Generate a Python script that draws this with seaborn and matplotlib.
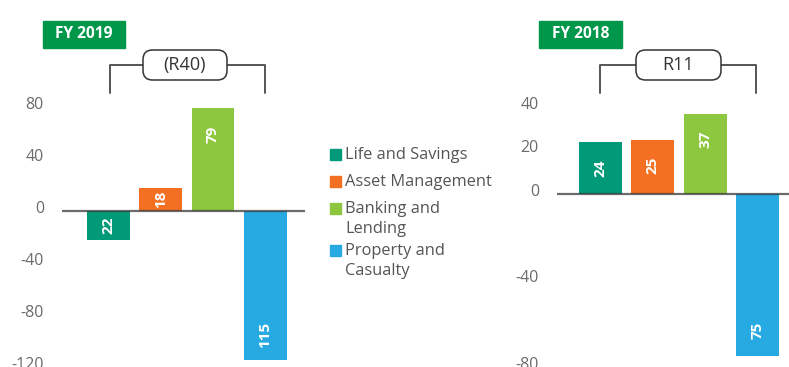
import matplotlib
matplotlib.use("Agg")
import matplotlib.pyplot as plt
import matplotlib.transforms as mtransforms
from matplotlib.patches import Rectangle, FancyBboxPatch
from matplotlib.lines import Line2D
import seaborn as sns
import pandas as pd

# Segment results (Rm); sign shows profit or loss
segments = ["Life and Savings", "Asset Management", "Banking and Lending", "Property and Casualty"]
legend_labels = ["Life and Savings", "Asset Management", "Banking and\nLending", "Property and\nCasualty"]
values_2019 = [-22, 18, 79, -115]
values_2018 = [24, 25, 37, -75]
total_2019 = "(R40)"
total_2018 = "R11"
ticks_2019 = [80, 40, 0, -40, -80, -120]
ticks_2018 = [40, 20, 0, -40, -80]
colors = ["#009a78", "#f37022", "#8dc63f", "#27a9e1"]
badge_green = "#00974a"

W, H = 789, 367
sns.set_theme(style="white")
plt.rcParams["font.family"] = ["Open Sans", "DejaVu Sans"]
fig = plt.figure(figsize=(W / 100, H / 100), dpi=100)


def fx(px):
    return px / W


def fy(py):
    return 1 - py / H


def add_axes(left, right, top, bottom):
    return fig.add_axes([fx(left), fy(bottom), fx(right) - fx(left), fy(top) - fy(bottom)])


def draw_panel(ax, values, ticks, ylim, xlim):
    df = pd.DataFrame({"segment": segments, "value": values})
    sns.barplot(data=df, x="segment", y="value", hue="segment", palette=colors,
                order=segments, hue_order=segments, width=0.82, legend=False,
                ax=ax, saturation=1, linewidth=0)
    ax.set_xlim(*xlim)
    ax.set_ylim(*ylim)
    ax.axhline(0, color="#3a3a3a", lw=1.6, alpha=0.75, zorder=5)
    for s in ax.spines.values():
        s.set_visible(False)
    ax.set_xticks([])
    ax.set_xlabel("")
    ax.set_ylabel("")
    ax.set_yticks(ticks)
    ax.set_yticklabels([str(t) for t in ticks])
    ax.tick_params(axis="y", length=0, pad=13, labelsize=11.5, labelcolor="#6b6b6b")
    shift = mtransforms.ScaledTranslation(0, 4 / 100, fig.dpi_scale_trans)
    for lab in ax.get_yticklabels():
        lab.set_transform(lab.get_transform() + shift)
    ax.patch.set_alpha(0)
    # value labels inside the bars
    y0, y1 = ax.transData.transform([(0, 0), (0, 1)])[:, 1]
    ppu = (y1 - y0)  # pixels per unit
    for i, v in enumerate(values):
        length = abs(v) * ppu
        inset = min(length / 2, 26)
        sign = 1 if v > 0 else -1
        ax.annotate(str(abs(v)), xy=(i, v), xytext=(0, -sign * inset * 0.72),
                    textcoords="offset points", rotation=90, ha="center", va="center",
                    color="white", fontsize=11, fontweight="bold", zorder=6)


ax1 = add_axes(62, 305, 95, 367)
draw_panel(ax1, values_2019, ticks_2019, (-120, 89.2), (-0.89, 3.76))
ax2 = add_axes(557, 789, 95, 367)
draw_panel(ax2, values_2018, ticks_2018, (-80, 45.6), (-0.83, 3.6))


def badge(x0, x1, y0, y1, text):
    fig.patches.append(Rectangle((fx(x0), fy(y1)), fx(x1) - fx(x0), fy(y0) - fy(y1),
                                 transform=fig.transFigure, color=badge_green, zorder=3))
    fig.text(fx((x0 + x1) / 2), fy((y0 + y1) / 2), text, ha="center", va="center",
             color="white", fontsize=11.2, fontweight="bold", zorder=4)


def bracket(xl, xr, bl, br, yb, ybot, text):
    kw = dict(transform=fig.transFigure, color="#555555", lw=1.4, zorder=3)
    fig.lines.append(Line2D([fx(xl), fx(xl), fx(bl)], [fy(ybot), fy(yb), fy(yb)], **kw))
    fig.lines.append(Line2D([fx(br), fx(xr), fx(xr)], [fy(yb), fy(yb), fy(ybot)], **kw))
    fig.patches.append(FancyBboxPatch((fx(bl), fy(yb + 15)), fx(br) - fx(bl), fy(yb - 15) - fy(yb + 15),
                                      boxstyle="round,pad=0,rounding_size=0.012",
                                      transform=fig.transFigure, facecolor="white",
                                      edgecolor="#333333", lw=1.1, zorder=4,
                                      mutation_aspect=W / H))
    fig.text(fx((bl + br) / 2), fy(yb), text, ha="center", va="center",
             color="#333333", fontsize=13, zorder=5)


badge(43, 125, 21, 48, "FY 2019")
badge(539, 622, 21, 48, "FY 2018")
bracket(110, 265, 143, 227, 65, 93, total_2019)
bracket(600, 756, 636, 721, 65, 93, total_2018)

# legend
leg_y = [154, 181, 208, 250]
for c, lab, y in zip(colors, legend_labels, leg_y):
    fig.patches.append(Rectangle((fx(330), fy(y + 6)), fx(341) - fx(330), fy(y - 5) - fy(y + 6),
                                 transform=fig.transFigure, color=c))
    fig.text(fx(345), fy(y - 7), lab, ha="left", va="top", color="#555555",
             fontsize=11.8, linespacing=1.3)

fig.savefig("out.png", dpi=100)
